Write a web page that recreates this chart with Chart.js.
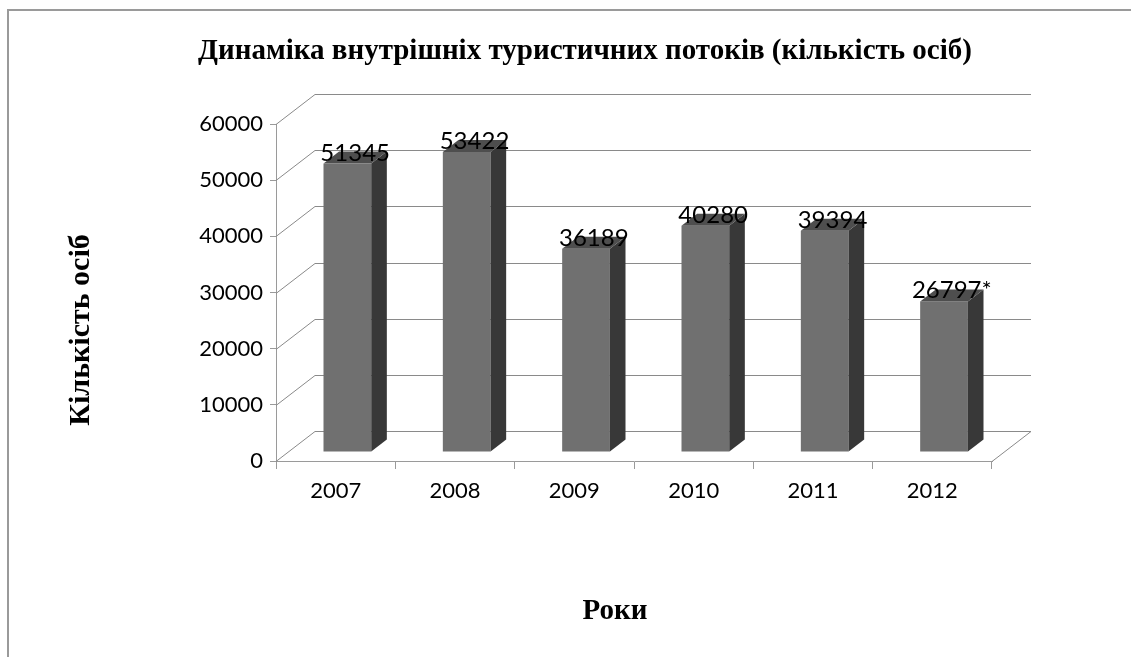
<!DOCTYPE html>
<html>
<head>
<meta charset="utf-8">
<script src="https://cdn.jsdelivr.net/npm/chart.js@4.4.1/dist/chart.umd.min.js"></script>
<style>
  body { margin: 0; background: #ffffff; }
  #wrap { width: 1131px; height: 657px; position: relative; }
</style>
</head>
<body>
<div id="wrap"><canvas id="tourChart"></canvas></div>
<script>
//* Input data //*

var years = ['2007', '2008', '2009', '2010', '2011', '2012'];
var tourists = [51345, 53422, 36189, 40280, 39394, 26797];
var valueLabels = ['51345', '53422', '36189', '40280', '39394', '26797*'];
var yTicks = [0, 10000, 20000, 30000, 40000, 50000, 60000];

var chartTitle = 'Динаміка внутрішніх туристичних потоків (кількість осіб)';
var yTitle = 'Кількість осіб';
var xTitle = 'Роки';

// 3D look: offset of the back wall, bars sit between 0.3 and 0.7 of the depth.
var depthX = 39;
var depthY = -30;
var frontColour = '#707070';
var sideColour = '#383838';
var topColour = '#4e4e4e';
var wallLine = '#8a8a8a';

//* Plugin that draws the 3D walls, boxes and texts //*

var threeD = {
    id: 'threeD',
    beforeDraw: function(chart) {
        var ctx = chart.ctx;
        ctx.save();
        ctx.fillStyle = '#ffffff';
        ctx.fillRect(0, 0, chart.width, chart.height);
        // Outer frame (only left and top are inside the picture).
        ctx.strokeStyle = '#9a9a9a';
        ctx.lineWidth = 2;
        ctx.beginPath();
        ctx.moveTo(8, chart.height + 5);
        ctx.lineTo(8, 10);
        ctx.lineTo(chart.width + 5, 10);
        ctx.stroke();
        ctx.restore();
    },
    beforeDatasetsDraw: function(chart) {
        var ctx = chart.ctx;
        var area = chart.chartArea;
        var yScale = chart.scales.y;
        ctx.save();
        ctx.strokeStyle = wallLine;
        ctx.lineWidth = 1;
        yTicks.forEach(function(v) {
            var yf = Math.round(yScale.getPixelForValue(v)) + 0.5;
            ctx.beginPath();
            ctx.moveTo(area.left, yf);
            ctx.lineTo(area.left + depthX, yf + depthY);
            ctx.lineTo(area.right + depthX, yf + depthY);
            ctx.stroke();
        });
        // Right edge of the floor.
        var yb = Math.round(yScale.getPixelForValue(0)) + 0.5;
        ctx.beginPath();
        ctx.moveTo(area.right, yb);
        ctx.lineTo(area.right + depthX, yb + depthY);
        ctx.stroke();
        ctx.restore();
    },
    afterDatasetsDraw: function(chart) {
        var ctx = chart.ctx;
        var meta = chart.getDatasetMeta(0);
        var fx = 0.3 * depthX, fy = 0.3 * depthY;
        var bx = 0.4 * depthX, by = 0.4 * depthY;
        ctx.save();
        meta.data.forEach(function(bar, i) {
            var x0 = bar.x - bar.width / 2 + fx;
            var x1 = bar.x + bar.width / 2 + fx;
            var yt = bar.y + fy;
            var yb = bar.base + fy;
            // Front face.
            ctx.fillStyle = frontColour;
            ctx.fillRect(x0, yt, x1 - x0, yb - yt);
            // Side face.
            ctx.fillStyle = sideColour;
            ctx.beginPath();
            ctx.moveTo(x1, yt);
            ctx.lineTo(x1 + bx, yt + by);
            ctx.lineTo(x1 + bx, yb + by);
            ctx.lineTo(x1, yb);
            ctx.closePath();
            ctx.fill();
            // Top face.
            ctx.fillStyle = topColour;
            ctx.beginPath();
            ctx.moveTo(x0, yt);
            ctx.lineTo(x1, yt);
            ctx.lineTo(x1 + bx, yt + by);
            ctx.lineTo(x0 + bx, yt + by);
            ctx.closePath();
            ctx.fill();
            // Value label above the box.
            ctx.fillStyle = '#000000';
            ctx.font = '24px Lato';
            ctx.textAlign = 'center';
            ctx.textBaseline = 'alphabetic';
            ctx.fillText(valueLabels[i], (x0 + x1) / 2 + bx / 2, yt - 3);
        });
        ctx.restore();
    },
    afterDraw: function(chart) {
        var ctx = chart.ctx;
        ctx.save();
        ctx.fillStyle = '#000000';
        ctx.textAlign = 'center';
        ctx.textBaseline = 'middle';
        ctx.font = 'bold 29px "Liberation Serif"';
        ctx.fillText(chartTitle, 585, 52);
        ctx.font = 'bold 29px "Liberation Serif"';
        ctx.fillText(xTitle, 615, 612);
        ctx.font = 'bold 30px "Liberation Serif"';
        ctx.translate(81, 330);
        ctx.rotate(-Math.PI / 2);
        ctx.fillText(yTitle, 0, 0);
        ctx.restore();
    }
};

//* Make the chart //*

function makeChart() {
    var ctx = document.getElementById('tourChart').getContext('2d');
    var tourChart = new Chart(ctx, {
        type: 'bar',
        data: {
            labels: years,
            datasets: [{
                data: tourists,
                backgroundColor: 'rgba(0,0,0,0)',
                borderWidth: 0,
                categoryPercentage: 1,
                barPercentage: 0.4
            }]
        },
        options: {
            responsive: true,
            maintainAspectRatio: false,
            animation: false,
            layout: { padding: { top: 124, left: 0, right: 139, bottom: 0 } },
            plugins: {
                legend: { display: false },
                tooltip: { enabled: false },
                title: { display: false }
            },
            scales: {
                x: {
                    offset: true,
                    grid: { display: true, offset: true, drawOnChartArea: false, tickLength: 8, color: '#9a9a9a' },
                    border: { display: true, color: '#9a9a9a' },
                    ticks: { color: '#000000', font: { family: 'Lato', size: 22 }, padding: 9, maxRotation: 0 },
                    afterFit: function(scale) { scale.height = 196; }
                },
                y: {
                    min: 0,
                    max: 60000,
                    afterBuildTicks: function(scale) {
                        scale.ticks = yTicks.map(function(v) { return { value: v }; });
                    },
                    grid: { display: true, drawOnChartArea: false, tickLength: 6, color: '#9a9a9a' },
                    border: { display: true, color: '#9a9a9a' },
                    ticks: {
                        color: '#000000',
                        font: { family: 'Lato', size: 22 },
                        padding: 7,
                        callback: function(value) { return String(value); }
                    },
                    afterFit: function(scale) { scale.width = 276; }
                }
            }
        },
        plugins: [threeD]
    });
    return tourChart;
}

var tourChart = makeChart();
</script>
</body>
</html>
